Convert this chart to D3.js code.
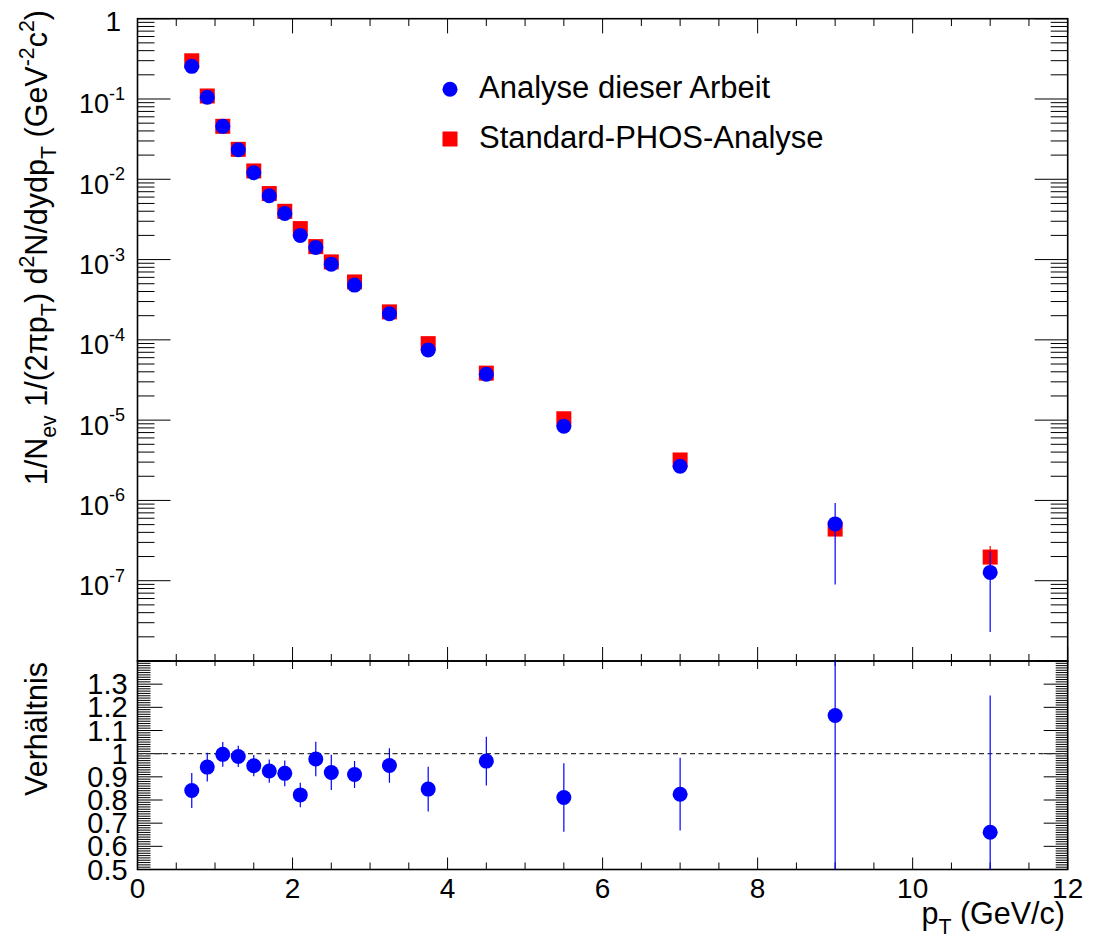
<!DOCTYPE html>
<html>
<head>
<meta charset="utf-8">
<script src="https://cdn.jsdelivr.net/npm/d3@7"></script>
<style>
  html, body { margin: 0; padding: 0; background: #fff; }
  svg { display: block; }
  text { font-family: "Liberation Sans", Arial, Helvetica, sans-serif; fill: #000; }
</style>
</head>
<body>
<svg id="chart" width="1093" height="939"></svg>
<script>
// ---------------- data ----------------
const pT = [0.7, 0.9, 1.1, 1.3, 1.5, 1.7, 1.9, 2.1, 2.3, 2.5, 2.8, 3.25, 3.75, 4.5, 5.5, 7, 9, 11];
const yieldThis = [0.255, 0.105, 0.0456, 0.0233, 0.01205, 0.00623, 0.00376, 0.0020, 0.001416, 0.000877, 0.000481, 0.000211, 7.5e-5, 3.73e-5, 8.4e-6, 2.67e-6, 5.1e-7, 1.27e-7];
const errThis   = [0.013, 0.004, 0.0017, 0.0008, 0.0004, 0.0002, 0.00015, 0.00009, 0.00008, 0.00005, 0.00002, 0.000012, 6e-6, 3e-6, 1.2e-6, 4e-7, 4.2e-7, 1.04e-7];
const yieldStd  = [0.299, 0.109, 0.0457, 0.0236, 0.0127, 0.00664, 0.00399, 0.00243, 0.00145, 0.000935, 0.000526, 0.000223, 8.97e-5, 3.85e-5, 1.04e-5, 3.19e-6, 4.4e-7, 1.97e-7];
const errStd    = [0.005, 0.002, 0.0008, 0.0004, 0.0002, 0.0001, 0.00007, 0.00004, 0.00003, 0.00002, 0.00001, 5e-6, 2e-6, 1e-6, 3e-7, 1.5e-7, 8e-8, 7.4e-8];
const ratio     = [0.841, 0.942, 0.997, 0.988, 0.948, 0.925, 0.915, 0.822, 0.977, 0.919, 0.910, 0.949, 0.847, 0.968, 0.811, 0.825, 1.165, 0.661];
const ratioErr  = [0.076, 0.062, 0.053, 0.046, 0.046, 0.050, 0.056, 0.053, 0.074, 0.076, 0.058, 0.074, 0.097, 0.105, 0.148, 0.157, 0.9, 0.59];

const seriesNames = ["Analyse dieser Arbeit", "Standard-PHOS-Analyse"];
const xMajorTicks = [0, 2, 4, 6, 8, 10, 12];
const xTickLabels = ["0", "2", "4", "6", "8", "10", "12"];
const topMajorTicks = [1, 1e-1, 1e-2, 1e-3, 1e-4, 1e-5, 1e-6, 1e-7, 1e-8];
const topTickLabels = ["1", "10^-1", "10^-2", "10^-3", "10^-4", "10^-5", "10^-6", "10^-7", ""];
const ratioMajorTicks = [0.5, 0.6, 0.7, 0.8, 0.9, 1.0, 1.1, 1.2, 1.3, 1.4];
const ratioTickLabels = ["0.5", "0.6", "0.7", "0.8", "0.9", "1", "1.1", "1.2", "1.3", ""];

(function draw() {
const L = 137.5, R = 1067.7;
const T1 = 18.7, B1 = 661;
const T2 = 661, B2 = 869.5;
const blue = "#0000ff", red = "#ff0000";

const svg = d3.select("#chart");
svg.append("rect").attr("width", 1093).attr("height", 939).attr("fill", "#fff");

const x = d3.scaleLinear().domain([0, 12]).range([L, R]);
const yTop = d3.scaleLog().domain([1e-8, 1]).range([B1, T1]);
const yRat = d3.scaleLinear().domain([0.5, 1.4]).range([B2, T2]);

const defs = svg.append("defs");
defs.append("clipPath").attr("id", "clipTop").append("rect")
  .attr("x", L).attr("y", T1).attr("width", R - L).attr("height", B1 - T1);
defs.append("clipPath").attr("id", "clipRat").append("rect")
  .attr("x", L).attr("y", T2).attr("width", R - L).attr("height", B2 - T2);

function rich(sel, parts, f) {
  let off = 0;
  parts.forEach(p => {
    let target = 0, size = f;
    if (p.sub) { target = 0.32 * f; size = 0.7 * f; }
    if (p.sup) { target = -0.42 * f; size = 0.7 * f; }
    sel.append("tspan").attr("dy", target - off).attr("font-size", size).text(p.t);
    off = target;
  });
}

const g = svg.append("g").attr("stroke", "#000").attr("fill", "none");
const xMinor = d3.range(0, 12.0001, 0.5);

function xTicks(y0, dir, majLen, minLen) {
  xMinor.forEach(v => {
    const major = xMajorTicks.includes(v);
    const len = major ? majLen : minLen;
    g.append("line").attr("x1", x(v)).attr("x2", x(v))
      .attr("y1", y0).attr("y2", y0 + dir * len).attr("stroke-width", 1);
  });
}
xTicks(T1, 1, 14.7, 7.3);
xTicks(B1, -1, 14, 7);
xTicks(T2, 1, 8, 5);
xTicks(B2, -1, 12, 7);

const logTicks = yTop.ticks();
logTicks.forEach(v => {
  const major = Math.abs(Math.log10(v) - Math.round(Math.log10(v))) < 1e-6;
  const len = major ? 33 : 17;
  const yy = yTop(v);
  g.append("line").attr("x1", L).attr("x2", L + len).attr("y1", yy).attr("y2", yy).attr("stroke-width", 1);
  g.append("line").attr("x1", R).attr("x2", R - len).attr("y1", yy).attr("y2", yy).attr("stroke-width", 1);
});

const ratMinor = d3.range(50, 141).map(i => i / 100);
ratMinor.forEach(v => {
  const major = ratioMajorTicks.some(m => Math.abs(m - v) < 1e-6);
  const yy = yRat(v);
  g.append("line").attr("x1", L).attr("x2", L + (major ? 25 : 13)).attr("y1", yy).attr("y2", yy).attr("stroke-width", 1);
  g.append("line").attr("x1", R).attr("x2", R - (major ? 24 : 12)).attr("y1", yy).attr("y2", yy).attr("stroke-width", 1);
});

svg.append("rect").attr("x", L).attr("y", T1).attr("width", R - L).attr("height", B1 - T1)
  .attr("fill", "none").attr("stroke", "#000").attr("stroke-width", 1.6);
svg.append("rect").attr("x", L).attr("y", T2).attr("width", R - L).attr("height", B2 - T2)
  .attr("fill", "none").attr("stroke", "#000").attr("stroke-width", 1.6);

// tick labels
const fTop = 27;
topMajorTicks.forEach((v, i) => {
  const lab = topTickLabels[i];
  if (!lab) return;
  const yy = yTop(v);
  if (lab === "1") {
    svg.append("text").attr("x", 121).attr("y", yy + 12.5).attr("text-anchor", "end")
      .attr("font-size", 28).text("1");
  } else {
    const exp = lab.split("^")[1];
    const t = svg.append("text").attr("x", 125).attr("y", yy + 14.5).attr("text-anchor", "end")
      .attr("font-size", fTop);
    t.append("tspan").text("10");
    t.append("tspan").attr("dy", -13.5).attr("font-size", 18).text(exp);
  }
});

const fRat = 29;
ratioMajorTicks.forEach((v, i) => {
  const lab = ratioTickLabels[i];
  if (!lab) return;
  svg.append("text").attr("x", 127.7).attr("y", yRat(v) + 10).attr("text-anchor", "end")
    .attr("font-size", fRat).text(lab);
});

xMajorTicks.forEach((v, i) => {
  svg.append("text").attr("x", x(v)).attr("y", 897.5).attr("text-anchor", "middle")
    .attr("font-size", 28).text(xTickLabels[i]);
});

// titles
const fT = 30.5;
const yTitle = svg.append("text").attr("transform", "translate(46.5,10) rotate(-90)")
  .attr("text-anchor", "end").attr("font-size", fT);
rich(yTitle, [
  {t: "1/N"}, {t: "ev", sub: true}, {t: " 1/(2\u03c0p"}, {t: "T", sub: true}, {t: ") d"},
  {t: "2", sup: true}, {t: "N/dydp"}, {t: "T", sub: true}, {t: " (GeV"}, {t: "-2", sup: true},
  {t: "c"}, {t: "2", sup: true}, {t: ")"}
], fT);

svg.append("text").attr("transform", "translate(47,662) rotate(-90)")
  .attr("text-anchor", "end").attr("font-size", 30.5).text("Verh\u00e4ltnis");

const xTitle = svg.append("text").attr("x", 1065).attr("y", 924).attr("text-anchor", "end")
  .attr("font-size", 30.5);
rich(xTitle, [{t: "p"}, {t: "T", sub: true}, {t: " (GeV/c)"}], 30.5);

// top panel data
const topG = svg.append("g").attr("clip-path", "url(#clipTop)");
const idx = d3.range(pT.length);
const MS = 15, MR = 7.5;

topG.selectAll("line.es").data(idx).join("line")
  .attr("x1", i => x(pT[i])).attr("x2", i => x(pT[i]))
  .attr("y1", i => yTop(yieldStd[i] + errStd[i]))
  .attr("y2", i => yTop(Math.max(yieldStd[i] - errStd[i], 1e-9)))
  .attr("stroke", red).attr("stroke-width", 1.2);
topG.selectAll("rect.sq").data(idx).join("rect")
  .attr("x", i => x(pT[i]) - MS / 2).attr("y", i => yTop(yieldStd[i]) - MS / 2)
  .attr("width", MS).attr("height", MS).attr("fill", red);

topG.selectAll("line.ec").data(idx).join("line")
  .attr("x1", i => x(pT[i])).attr("x2", i => x(pT[i]))
  .attr("y1", i => yTop(yieldThis[i] + errThis[i]))
  .attr("y2", i => yTop(Math.max(yieldThis[i] - errThis[i], 1e-9)))
  .attr("stroke", blue).attr("stroke-width", 1.2);
topG.selectAll("circle.c").data(idx).join("circle")
  .attr("cx", i => x(pT[i])).attr("cy", i => yTop(yieldThis[i]))
  .attr("r", MR).attr("fill", blue);

// legend
svg.append("circle").attr("cx", 450).attr("cy", 89.3).attr("r", MR).attr("fill", blue);
svg.append("rect").attr("x", 450 - MS / 2).attr("y", 139 - MS / 2).attr("width", MS).attr("height", MS).attr("fill", red);
svg.append("text").attr("x", 479).attr("y", 97.5).attr("font-size", 31).text(seriesNames[0]);
svg.append("text").attr("x", 479).attr("y", 147.5).attr("font-size", 31).text(seriesNames[1]);

// ratio panel
const ratG = svg.append("g").attr("clip-path", "url(#clipRat)");
ratG.append("line").attr("x1", L).attr("x2", R).attr("y1", yRat(1)).attr("y2", yRat(1))
  .attr("stroke", "#333").attr("stroke-width", 1.2).attr("stroke-dasharray", "5,3.5");
ratG.selectAll("line.er").data(idx).join("line")
  .attr("x1", i => x(pT[i])).attr("x2", i => x(pT[i]))
  .attr("y1", i => yRat(ratio[i] + ratioErr[i]))
  .attr("y2", i => yRat(ratio[i] - ratioErr[i]))
  .attr("stroke", blue).attr("stroke-width", 1.2);
ratG.selectAll("circle.r").data(idx).join("circle")
  .attr("cx", i => x(pT[i])).attr("cy", i => yRat(ratio[i]))
  .attr("r", MR).attr("fill", blue);
})();
</script>
</body>
</html>
